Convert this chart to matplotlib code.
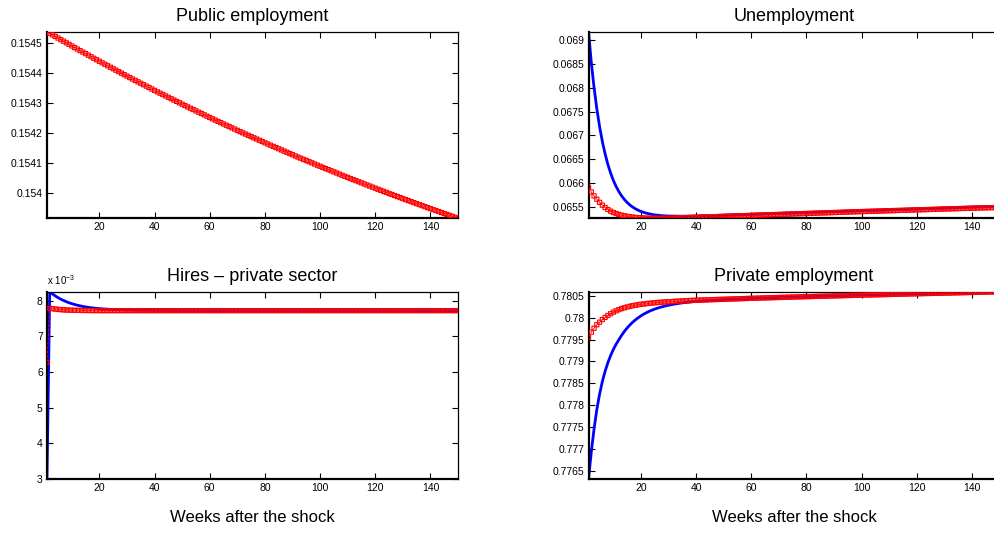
import numpy as np
import matplotlib
matplotlib.use("Agg")
import matplotlib.pyplot as plt
from matplotlib.ticker import MultipleLocator, FuncFormatter

plt.rcParams['font.family'] = ['Liberation Sans', 'DejaVu Sans']
plt.rcParams['mathtext.fontset'] = 'custom'
plt.rcParams['mathtext.rm'] = 'Liberation Sans'

# weeks after the shock (red series have one marker per week)
weeks = np.arange(1, 151)

# Public employment (red, blue lies underneath)
public_red = [
    0.1545390, 0.1545337, 0.1545284, 0.1545231, 0.1545178, 0.1545125, 0.1545072, 0.1545019, 0.1544966, 0.1544913,
    0.1544860, 0.1544809, 0.1544757, 0.1544706, 0.1544655, 0.1544604, 0.1544553, 0.1544501, 0.1544450, 0.1544399,
    0.1544348, 0.1544298, 0.1544249, 0.1544200, 0.1544150, 0.1544101, 0.1544051, 0.1544002, 0.1543952, 0.1543903,
    0.1543853, 0.1543805, 0.1543758, 0.1543710, 0.1543662, 0.1543614, 0.1543567, 0.1543519, 0.1543471, 0.1543424,
    0.1543376, 0.1543330, 0.1543284, 0.1543238, 0.1543192, 0.1543146, 0.1543100, 0.1543054, 0.1543008, 0.1542962,
    0.1542916, 0.1542871, 0.1542827, 0.1542782, 0.1542738, 0.1542694, 0.1542649, 0.1542605, 0.1542560, 0.1542516,
    0.1542471, 0.1542428, 0.1542385, 0.1542342, 0.1542299, 0.1542256, 0.1542214, 0.1542171, 0.1542128, 0.1542085,
    0.1542042, 0.1542001, 0.1541959, 0.1541918, 0.1541876, 0.1541835, 0.1541794, 0.1541752, 0.1541711, 0.1541669,
    0.1541628, 0.1541588, 0.1541548, 0.1541508, 0.1541468, 0.1541428, 0.1541388, 0.1541348, 0.1541308, 0.1541268,
    0.1541228, 0.1541189, 0.1541151, 0.1541112, 0.1541074, 0.1541035, 0.1540997, 0.1540958, 0.1540919, 0.1540881,
    0.1540842, 0.1540805, 0.1540768, 0.1540730, 0.1540693, 0.1540656, 0.1540619, 0.1540581, 0.1540544, 0.1540507,
    0.1540470, 0.1540434, 0.1540398, 0.1540362, 0.1540326, 0.1540290, 0.1540254, 0.1540218, 0.1540182, 0.1540146,
    0.1540110, 0.1540075, 0.1540041, 0.1540006, 0.1539971, 0.1539936, 0.1539902, 0.1539867, 0.1539832, 0.1539798,
    0.1539763, 0.1539730, 0.1539696, 0.1539663, 0.1539629, 0.1539596, 0.1539562, 0.1539529, 0.1539495, 0.1539462,
    0.1539428, 0.1539396, 0.1539363, 0.1539331, 0.1539298, 0.1539266, 0.1539234, 0.1539201, 0.1539169, 0.1539137,
]

# Unemployment
unemp_blue_weeks = [1, 2, 3, 4, 5, 6, 7, 8, 9, 10, 11, 12, 13, 14, 15, 16, 17, 18, 19, 20,
                    22, 24, 26, 28, 30, 35, 40, 50, 60, 70, 80, 90, 100, 110, 120, 130, 140, 150]
unemp_blue = [0.069180, 0.068537, 0.068006, 0.067561, 0.067188, 0.066876, 0.066614, 0.066394, 0.066210, 0.066056,
              0.065928, 0.065820, 0.065730, 0.065655, 0.065592, 0.065540, 0.065496, 0.065460, 0.065429, 0.065404,
              0.065367, 0.065341, 0.065325, 0.065314, 0.065308, 0.065304, 0.065308, 0.065325, 0.065344, 0.065363,
              0.065382, 0.065401, 0.065420, 0.065438, 0.065456, 0.065475, 0.065495, 0.065515]
unemp_red = [
    0.0659080, 0.0658150, 0.0657310, 0.0656620, 0.0655950, 0.0655360, 0.0654870, 0.0654450, 0.0654100, 0.0653820,
    0.0653600, 0.0653410, 0.0653250, 0.0653130, 0.0653020, 0.0652930, 0.0652850, 0.0652790, 0.0652740, 0.0652700,
    0.0652670, 0.0652640, 0.0652620, 0.0652610, 0.0652600, 0.0652600, 0.0652600, 0.0652610, 0.0652620, 0.0652630,
    0.0652650, 0.0652660, 0.0652680, 0.0652700, 0.0652720, 0.0652740, 0.0652760, 0.0652780, 0.0652800, 0.0652820,
    0.0652840, 0.0652860, 0.0652880, 0.0652900, 0.0652920, 0.0652940, 0.0652960, 0.0652980, 0.0653000, 0.0653020,
    0.0653040, 0.0653060, 0.0653080, 0.0653100, 0.0653120, 0.0653140, 0.0653160, 0.0653180, 0.0653200, 0.0653220,
    0.0653240, 0.0653260, 0.0653280, 0.0653300, 0.0653320, 0.0653340, 0.0653360, 0.0653380, 0.0653400, 0.0653420,
    0.0653440, 0.0653460, 0.0653480, 0.0653500, 0.0653520, 0.0653540, 0.0653560, 0.0653580, 0.0653600, 0.0653620,
    0.0653640, 0.0653660, 0.0653680, 0.0653700, 0.0653720, 0.0653740, 0.0653760, 0.0653780, 0.0653800, 0.0653820,
    0.0653840, 0.0653860, 0.0653880, 0.0653900, 0.0653920, 0.0653940, 0.0653960, 0.0653980, 0.0654000, 0.0654020,
    0.0654038, 0.0654056, 0.0654074, 0.0654092, 0.0654110, 0.0654128, 0.0654146, 0.0654164, 0.0654182, 0.0654200,
    0.0654218, 0.0654236, 0.0654254, 0.0654272, 0.0654290, 0.0654308, 0.0654326, 0.0654344, 0.0654362, 0.0654380,
    0.0654398, 0.0654416, 0.0654434, 0.0654452, 0.0654470, 0.0654488, 0.0654506, 0.0654524, 0.0654542, 0.0654560,
    0.0654577, 0.0654594, 0.0654611, 0.0654628, 0.0654645, 0.0654662, 0.0654679, 0.0654696, 0.0654713, 0.0654730,
    0.0654746, 0.0654762, 0.0654778, 0.0654794, 0.0654810, 0.0654826, 0.0654842, 0.0654858, 0.0654874, 0.0654890,
]

# Hires - private sector
hires_blue_weeks = [1, 2, 3, 4, 5, 6, 7, 8, 9, 10, 11, 12, 13, 14, 15, 16, 17, 18, 19, 20,
                    22, 25, 30, 35, 40, 50, 60, 80, 100, 120, 150]
hires_blue = [0.003000, 0.008250, 0.008188, 0.008133, 0.008084, 0.008041, 0.008004, 0.007970, 0.007941, 0.007915,
              0.007892, 0.007872, 0.007854, 0.007838, 0.007824, 0.007812, 0.007801, 0.007792, 0.007783, 0.007776,
              0.007764, 0.007750, 0.007736, 0.0077285, 0.0077245, 0.0077213, 0.0077203, 0.007720, 0.007720,
              0.007720, 0.007720]
hires_red = [
    0.006270, 0.007787, 0.007774, 0.007763, 0.007754, 0.007747, 0.007742, 0.007738, 0.007734, 0.007731,
    0.007729, 0.007727, 0.007726, 0.007725, 0.007724, 0.007723, 0.007722, 0.007722, 0.007721, 0.007721,
    0.007720, 0.007720, 0.007720, 0.007720, 0.007720, 0.007720, 0.007720, 0.007720, 0.007720, 0.007720,
    0.007720, 0.007720, 0.007720, 0.007720, 0.007720, 0.007720, 0.007720, 0.007720, 0.007720, 0.007720,
    0.007720, 0.007720, 0.007720, 0.007720, 0.007720, 0.007720, 0.007720, 0.007720, 0.007720, 0.007720,
    0.007720, 0.007720, 0.007720, 0.007720, 0.007720, 0.007720, 0.007720, 0.007720, 0.007720, 0.007720,
    0.007720, 0.007720, 0.007720, 0.007720, 0.007720, 0.007720, 0.007720, 0.007720, 0.007720, 0.007720,
    0.007720, 0.007720, 0.007720, 0.007720, 0.007720, 0.007720, 0.007720, 0.007720, 0.007720, 0.007720,
    0.007720, 0.007720, 0.007720, 0.007720, 0.007720, 0.007720, 0.007720, 0.007720, 0.007720, 0.007720,
    0.007720, 0.007720, 0.007720, 0.007720, 0.007720, 0.007720, 0.007720, 0.007720, 0.007720, 0.007720,
    0.007720, 0.007720, 0.007720, 0.007720, 0.007720, 0.007720, 0.007720, 0.007720, 0.007720, 0.007720,
    0.007720, 0.007720, 0.007720, 0.007720, 0.007720, 0.007720, 0.007720, 0.007720, 0.007720, 0.007720,
    0.007720, 0.007720, 0.007720, 0.007720, 0.007720, 0.007720, 0.007720, 0.007720, 0.007720, 0.007720,
    0.007720, 0.007720, 0.007720, 0.007720, 0.007720, 0.007720, 0.007720, 0.007720, 0.007720, 0.007720,
    0.007720, 0.007720, 0.007720, 0.007720, 0.007720, 0.007720, 0.007720, 0.007720, 0.007720, 0.007720,
]

# Private employment
priv_blue_weeks = [1, 2, 3, 4, 5, 6, 7, 8, 9, 10, 11, 12, 13, 14, 15, 16, 17, 18, 19, 20,
                   21, 22, 23, 24, 25, 26, 27, 28, 29, 30, 32, 35, 40, 45, 50, 60, 70, 80, 90, 100,
                   110, 120, 130, 140, 150]
priv_blue = [0.776310, 0.776930, 0.777460, 0.777900, 0.778250, 0.778540, 0.778775, 0.778970, 0.779135, 0.779275,
             0.779395, 0.779500, 0.779600, 0.779688, 0.779767, 0.779836, 0.779898, 0.779952, 0.780001, 0.780044,
             0.780083, 0.780117, 0.780148, 0.780174, 0.780199, 0.780220, 0.780240, 0.780257, 0.780274, 0.780287,
             0.780312, 0.780341, 0.780375, 0.780398, 0.780415, 0.780443, 0.780464, 0.780483, 0.780500, 0.780517,
             0.780533, 0.780549, 0.780564, 0.780579, 0.780596]
priv_red = [
    0.7795550, 0.7796700, 0.7797610, 0.7798390, 0.7798990, 0.7799580, 0.7800080, 0.7800520, 0.7800920, 0.7801280,
    0.7801580, 0.7801850, 0.7802090, 0.7802290, 0.7802470, 0.7802620, 0.7802760, 0.7802880, 0.7802990, 0.7803080,
    0.7803160, 0.7803240, 0.7803310, 0.7803370, 0.7803430, 0.7803480, 0.7803530, 0.7803580, 0.7803620, 0.7803660,
    0.7803700, 0.7803740, 0.7803780, 0.7803810, 0.7803850, 0.7803880, 0.7803910, 0.7803950, 0.7803980, 0.7804010,
    0.7804032, 0.7804054, 0.7804076, 0.7804098, 0.7804120, 0.7804142, 0.7804164, 0.7804186, 0.7804208, 0.7804230,
    0.7804252, 0.7804274, 0.7804296, 0.7804318, 0.7804340, 0.7804362, 0.7804384, 0.7804406, 0.7804428, 0.7804450,
    0.7804469, 0.7804488, 0.7804507, 0.7804526, 0.7804545, 0.7804564, 0.7804583, 0.7804602, 0.7804621, 0.7804640,
    0.7804659, 0.7804678, 0.7804697, 0.7804716, 0.7804735, 0.7804754, 0.7804773, 0.7804792, 0.7804811, 0.7804830,
    0.7804847, 0.7804864, 0.7804881, 0.7804898, 0.7804915, 0.7804932, 0.7804949, 0.7804966, 0.7804983, 0.7805000,
    0.7805017, 0.7805034, 0.7805051, 0.7805068, 0.7805085, 0.7805102, 0.7805119, 0.7805136, 0.7805153, 0.7805170,
    0.7805186, 0.7805202, 0.7805218, 0.7805234, 0.7805250, 0.7805266, 0.7805282, 0.7805298, 0.7805314, 0.7805330,
    0.7805346, 0.7805362, 0.7805378, 0.7805394, 0.7805410, 0.7805426, 0.7805442, 0.7805458, 0.7805474, 0.7805490,
    0.7805505, 0.7805520, 0.7805535, 0.7805550, 0.7805565, 0.7805580, 0.7805595, 0.7805610, 0.7805625, 0.7805640,
    0.7805655, 0.7805670, 0.7805685, 0.7805700, 0.7805715, 0.7805730, 0.7805745, 0.7805760, 0.7805775, 0.7805790,
    0.7805805, 0.7805820, 0.7805835, 0.7805850, 0.7805865, 0.7805880, 0.7805895, 0.7805910, 0.7805925, 0.7805940,
]

fig = plt.figure(figsize=(9.95, 5.33), dpi=100)

# axes boxes in figure fractions (right column runs off the edge, as in the original)
ax_pub = fig.add_axes([0.0472, 0.5904, 0.4131, 0.3501])
ax_une = fig.add_axes([0.5915, 0.5904, 0.4131, 0.3501])
ax_hir = fig.add_axes([0.0472, 0.1013, 0.4131, 0.3514])
ax_pri = fig.add_axes([0.5915, 0.1013, 0.4131, 0.3514])


def red_series(ax, x, y):
    # dashed red line plus open squares; scatter keeps sub-pixel marker positions
    ax.plot(x, y, color='red', linestyle='--', linewidth=0.6, zorder=3)
    ax.scatter(x, y, s=9, marker='s', facecolors='none', edgecolors='red',
               linewidths=0.8, zorder=4, snap=False)


blue_style = dict(color='blue', linewidth=2.0, zorder=2)

# public employment
red_series(ax_pub, weeks, public_red)
ax_pub.set_ylim(min(public_red), max(public_red))
ax_pub.yaxis.set_major_locator(MultipleLocator(0.0001))
ax_pub.set_title('Public employment', fontsize=13, pad=8)

# unemployment
ax_une.plot(unemp_blue_weeks, unemp_blue, **blue_style)
red_series(ax_une, weeks, unemp_red)
ax_une.set_ylim(min(unemp_red), max(unemp_blue))
ax_une.yaxis.set_major_locator(MultipleLocator(0.0005))
ax_une.set_title('Unemployment', fontsize=13, pad=8)

# hires
ax_hir.plot(hires_blue_weeks, hires_blue, **blue_style)
red_series(ax_hir, weeks, hires_red)
ax_hir.set_ylim(min(hires_blue), max(hires_blue))
ax_hir.yaxis.set_major_locator(MultipleLocator(0.001))
ax_hir.yaxis.set_major_formatter(FuncFormatter(lambda v, p: '%g' % round(v * 1e3, 6)))
ax_hir.text(0.0, 1.025, r'x 10$^{-3}$', transform=ax_hir.transAxes, fontsize=7,
            ha='left', va='bottom')
ax_hir.set_title('Hires \u2013 private sector', fontsize=13, pad=8)
ax_hir.set_xlabel('Weeks after the shock', fontsize=12, labelpad=12)

# private employment
ax_pri.plot(priv_blue_weeks, priv_blue, **blue_style)
red_series(ax_pri, weeks, priv_red)
ax_pri.set_ylim(min(priv_blue), max(priv_blue))
ax_pri.yaxis.set_major_locator(MultipleLocator(0.0005))
ax_pri.set_title('Private employment', fontsize=13, pad=8)
ax_pri.set_xlabel('Weeks after the shock', fontsize=12, labelpad=12)

for ax in [ax_pub, ax_une, ax_hir, ax_pri]:
    ax.set_xlim(1, 150)
    ax.xaxis.set_major_locator(MultipleLocator(20))
    if ax is not ax_hir:
        ax.yaxis.set_major_formatter(FuncFormatter(lambda v, p: '%g' % round(v, 6)))
    ax.tick_params(direction='in', length=4, width=0.8, top=True, right=True,
                   labelsize=7.5, pad=3)
    for side in ['left', 'bottom']:
        ax.spines[side].set_linewidth(1.6)
    for side in ['top', 'right']:
        ax.spines[side].set_linewidth(0.9)

plt.savefig('out.png', dpi=100)
